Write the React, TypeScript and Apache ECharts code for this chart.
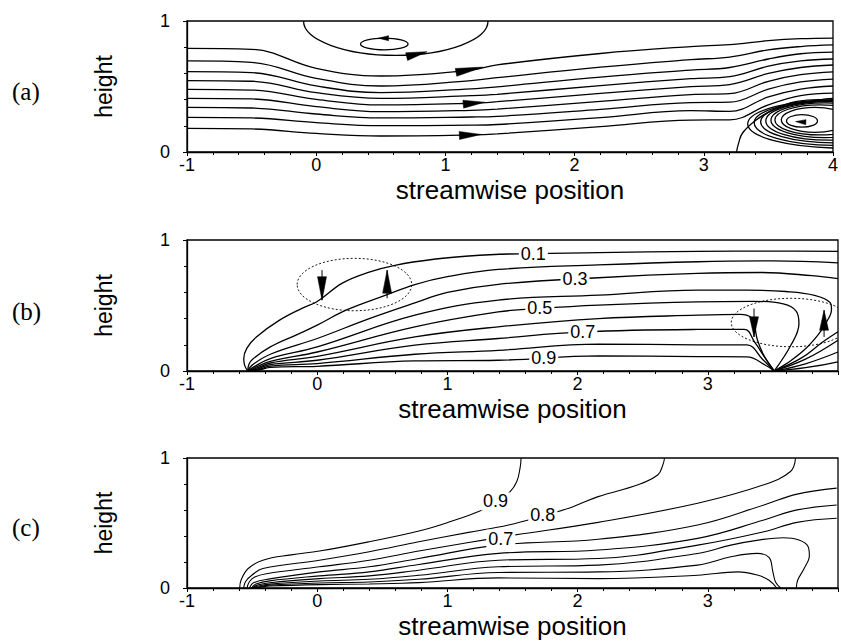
import React, { useEffect, useRef } from "react";
import * as echarts from "echarts";

// ---------------- axes ----------------
const X_RANGE = [-1, 4];
const Y_RANGE = [0, 1];
const PANEL_TAGS = ["(a)", "(b)", "(c)"];
const X_NAME = "streamwise position";
const Y_NAME = "height";

// ---------------- panel (a): streamlines ----------------
const A_X = [-1, -0.5, 0, 0.5, 1.2, 1.4, 2.2, 2.9, 3.2, 3.5, 3.75, 4.0];
const A_LINES = [
  [0.791, 0.784, 0.639, 0.58, 0.625, 0.665, 0.752, 0.805, 0.82, 0.85, 0.865, 0.87],
  [0.695, 0.684, 0.562, 0.504, 0.545, 0.567, 0.648, 0.705, 0.725, 0.78, 0.805, 0.817],
  [0.613, 0.606, 0.504, 0.453, 0.482, 0.497, 0.572, 0.625, 0.645, 0.71, 0.75, 0.763],
  [0.545, 0.54, 0.453, 0.41, 0.43, 0.44, 0.507, 0.56, 0.575, 0.655, 0.695, 0.71],
  [0.478, 0.473, 0.402, 0.359, 0.372, 0.384, 0.447, 0.499, 0.515, 0.6, 0.645, 0.664],
  [0.41, 0.405, 0.346, 0.308, 0.318, 0.327, 0.387, 0.438, 0.445, 0.54, 0.59, 0.611],
  [0.341, 0.336, 0.29, 0.26, 0.267, 0.272, 0.326, 0.377, 0.38, 0.48, 0.535, 0.557],
  [0.265, 0.26, 0.224, 0.201, 0.205, 0.21, 0.262, 0.316, 0.31, 0.42, 0.48, 0.504],
  [0.181, 0.176, 0.142, 0.122, 0.13, 0.138, 0.193, 0.244, 0.245, 0.36, 0.43, 0.45],
];
// wall-attached separatrix of the downstream vortex
const A_SEPARATRIX = [
  [3.253, 0], [3.27, 0.07], [3.3, 0.145], [3.4, 0.24], [3.53, 0.32], [3.71, 0.384], [3.916, 0.402], [4.0, 0.41],
];
// closed loops: [cx, cy, rx, ry]
const A_LOOPS = [
  [0.616, 1.0, 0.714, 0.262], // top bubble
  [0.527, 0.824, 0.184, 0.045], // inner loop of top bubble
  [4.06, 0.215, 0.72, 0.185],
  [4.03, 0.2225, 0.64, 0.1725],
  [4.0, 0.23, 0.56, 0.16],
  [3.97, 0.2375, 0.49, 0.1475],
  [3.94, 0.2425, 0.42, 0.1325],
  [3.9, 0.245, 0.35, 0.115],
  [3.86, 0.245, 0.26, 0.095],
  [3.76, 0.2375, 0.12, 0.0475],
];
// arrows: [tailX, tailY, baseX, baseY, tipX, tipY]
const A_ARROWS = [
  [0.7, 0.728, 0.7, 0.728, 0.858, 0.766],
  [1.082, 0.608, 1.082, 0.608, 1.291, 0.648],
  [1.138, 0.365, 1.138, 0.365, 1.304, 0.38],
  [1.108, 0.126, 1.108, 0.126, 1.278, 0.134],
];
const A_SMALL_ARROWS = [
  [0.56, 0.869, 0.56, 0.869, 0.48, 0.869],
  [3.79, 0.228, 3.79, 0.228, 3.71, 0.232],
];

// ---------------- panel (b): contours ----------------
const B_LINES = [
  [[-0.533, 0], [-0.558, 0.045], [-0.564, 0.095], [-0.54, 0.175], [-0.467, 0.26], [-0.289, 0.388], [-0.113, 0.48], [0.0, 0.53], [0.193, 0.671], [0.399, 0.755], [0.606, 0.809], [0.911, 0.855], [1.164, 0.878], [1.47, 0.893], [2.16, 0.903], [2.92, 0.913], [3.5, 0.915], [4.0, 0.913]],
  [[-0.533, 0], [-0.525, 0.05], [-0.49, 0.095], [-0.36, 0.184], [-0.15, 0.28], [0.0, 0.35], [0.221, 0.464], [0.527, 0.579], [0.75, 0.66], [1.0, 0.72], [1.39, 0.775], [2.16, 0.81], [2.92, 0.834], [3.5, 0.84], [4.0, 0.825]],
  [[-0.533, 0], [-0.5, 0.045], [-0.36, 0.128], [0.0, 0.248], [0.4, 0.4], [0.75, 0.52], [1.0, 0.6], [1.39, 0.662], [2.16, 0.712], [2.92, 0.745], [3.4, 0.752], [3.8, 0.728], [4.0, 0.705]],
  [[-0.533, 0], [-0.49, 0.03], [-0.36, 0.095], [0.0, 0.184], [0.75, 0.426], [1.39, 0.541], [2.16, 0.579], [2.92, 0.617], [3.3, 0.617], [3.6, 0.607], [3.82, 0.578], [3.94, 0.522], [3.95, 0.47], [3.91, 0.37], [3.85, 0.28], [3.74, 0.16], [3.61, 0.06], [3.51, 0]],
  [[-0.533, 0], [-0.48, 0.025], [-0.36, 0.074], [0.0, 0.145], [0.75, 0.337], [1.39, 0.451], [1.71, 0.478], [2.16, 0.503], [2.92, 0.528], [3.35, 0.532], [3.58, 0.512], [3.68, 0.455], [3.7, 0.36], [3.64, 0.2], [3.51, 0]],
  [[-0.533, 0], [-0.47, 0.02], [-0.36, 0.061], [0.0, 0.112], [0.75, 0.26], [1.39, 0.337], [2.16, 0.4], [2.92, 0.426], [3.25, 0.432], [3.33, 0.41], [3.36, 0.34], [3.38, 0.24], [3.43, 0.12], [3.51, 0]],
  [[-0.533, 0], [-0.46, 0.015], [-0.36, 0.049], [0.0, 0.082], [0.75, 0.197], [1.39, 0.248], [2.04, 0.298], [2.92, 0.317], [3.28, 0.318], [3.36, 0.22], [3.44, 0.1], [3.51, 0]],
  [[-0.533, 0], [-0.45, 0.012], [-0.36, 0.038], [0.0, 0.057], [0.75, 0.128], [1.39, 0.158], [2.16, 0.205], [2.92, 0.2], [3.3, 0.2], [3.42, 0.09], [3.51, 0]],
  [[-0.533, 0], [-0.44, 0.01], [-0.36, 0.028], [0.0, 0.036], [0.75, 0.077], [1.39, 0.082], [2.16, 0.115], [2.92, 0.11], [3.3, 0.108], [3.45, 0.04], [3.51, 0]],
];
// branches leaving the downstream singular point
const B_EXITS = [
  [[3.51, 0], [3.75, 0.025], [4.0, 0.07]],
  [[3.51, 0], [3.75, 0.055], [4.0, 0.145]],
  [[3.51, 0], [3.75, 0.09], [4.0, 0.235]],
  [[3.51, 0], [3.72, 0.1], [3.88, 0.22], [4.0, 0.3]],
];
const B_ELLIPSES = [
  [0.286, 0.66, 0.44, 0.2],
  [3.64, 0.37, 0.46, 0.185],
];
const B_ARROWS = [
  [0.037, 0.77, 0.037, 0.72, 0.037, 0.541],
  [0.537, 0.555, 0.537, 0.594, 0.537, 0.77],
  [3.355, 0.477, 3.355, 0.414, 3.355, 0.26],
  [3.893, 0.26, 3.893, 0.311, 3.893, 0.464],
];
const B_LABELS = [
  { name: "0.1", value: [1.66, 0.895] },
  { name: "0.3", value: [1.98, 0.702] },
  { name: "0.5", value: [1.71, 0.478] },
  { name: "0.7", value: [2.04, 0.296] },
  { name: "0.9", value: [1.74, 0.097] },
];

// ---------------- panel (c): contours ----------------
const C_LINES = [
  [[-0.595, 0], [-0.585, 0.06], [-0.53, 0.15], [-0.417, 0.214], [-0.2, 0.255], [0.017, 0.284], [0.399, 0.356], [0.781, 0.438], [1.036, 0.515], [1.24, 0.588], [1.37, 0.66], [1.482, 0.742], [1.533, 0.819], [1.558, 0.922], [1.566, 1.0]],
  [[-0.565, 0], [-0.55, 0.05], [-0.5, 0.1], [-0.417, 0.15], [0.017, 0.214], [0.4, 0.279], [0.78, 0.356], [1.163, 0.428], [1.47, 0.485], [1.733, 0.555], [1.95, 0.62], [2.158, 0.703], [2.464, 0.794], [2.617, 0.871], [2.655, 0.948], [2.668, 1.0]],
  [[-0.54, 0], [-0.52, 0.05], [-0.48, 0.085], [-0.39, 0.11], [0.017, 0.163], [0.4, 0.214], [0.78, 0.284], [1.163, 0.35], [1.41, 0.39], [1.51, 0.407], [2.158, 0.505], [2.922, 0.652], [3.431, 0.794], [3.635, 0.896], [3.674, 1.0]],
  [[-0.52, 0], [-0.49, 0.04], [-0.365, 0.07], [0.017, 0.124], [0.4, 0.163], [0.78, 0.227], [1.393, 0.33], [2.158, 0.375], [2.922, 0.485], [3.431, 0.639], [3.686, 0.722], [3.99, 0.768]],
  [[-0.506, 0], [-0.47, 0.03], [-0.365, 0.055], [0.017, 0.093], [0.4, 0.124], [0.78, 0.181], [1.393, 0.266], [2.158, 0.292], [2.922, 0.382], [3.431, 0.523], [3.686, 0.601], [3.99, 0.639]],
  [[-0.5, 0], [-0.46, 0.022], [-0.365, 0.04], [0.017, 0.072], [0.4, 0.093], [0.78, 0.137], [1.393, 0.214], [2.158, 0.227], [2.922, 0.33], [3.431, 0.433], [3.686, 0.505], [3.99, 0.536]],
  [[-0.497, 0], [-0.45, 0.015], [-0.365, 0.03], [0.017, 0.054], [0.4, 0.067], [0.78, 0.098], [1.393, 0.163], [2.158, 0.176], [2.922, 0.266], [3.177, 0.33], [3.4, 0.37], [3.58, 0.387], [3.7, 0.37], [3.77, 0.32], [3.78, 0.25], [3.74, 0.15], [3.69, 0.06], [3.68, 0]],
  [[-0.494, 0], [-0.44, 0.01], [-0.365, 0.022], [0.017, 0.039], [0.4, 0.046], [0.78, 0.067], [1.393, 0.119], [2.158, 0.124], [2.922, 0.176], [3.177, 0.24], [3.38, 0.266], [3.47, 0.235], [3.5, 0.124], [3.52, 0.047], [3.56, 0]],
  [[-0.49, 0], [-0.43, 0.008], [-0.365, 0.015], [0.017, 0.026], [0.4, 0.031], [0.78, 0.041], [1.393, 0.078], [2.158, 0.072], [2.922, 0.098], [3.23, 0.124], [3.38, 0.1], [3.47, 0.06], [3.53, 0]],
];
const C_LABELS = [
  { name: "0.9", value: [1.37, 0.666] },
  { name: "0.8", value: [1.733, 0.562] },
  { name: "0.7", value: [1.41, 0.38] },
];

// ---------------- rendering helpers ----------------
const FONT = "'Liberation Sans', Arial, Helvetica, sans-serif";
const SERIF = "'Liberation Serif', 'Times New Roman', serif";
const GRID_TOPS = [21, 240, 458];
const GRID_HEIGHTS = [131, 131, 130];
const TAG_Y = [92, 312, 528];

function lineSeries(i: number, data: number[][], width = 1.3) {
  return {
    type: "line",
    xAxisIndex: i,
    yAxisIndex: i,
    data,
    smooth: 0.4,
    symbol: "none",
    showSymbol: false,
    silent: true,
    clip: true,
    lineStyle: { color: "#000", width },
    z: 2,
  };
}

function ellipseSeries(i: number, data: number[][], dashed: boolean) {
  return {
    type: "custom",
    xAxisIndex: i,
    yAxisIndex: i,
    clip: true,
    silent: true,
    z: 3,
    data,
    encode: { x: 0, y: 1 },
    renderItem: (_p: any, api: any) => {
      const c = api.coord([api.value(0), api.value(1)]);
      const s = api.size([api.value(2), api.value(3)]);
      return {
        type: "ellipse",
        shape: { cx: c[0], cy: c[1], rx: Math.abs(s[0]), ry: Math.abs(s[1]) },
        style: {
          fill: "none",
          stroke: "#000",
          lineWidth: dashed ? 0.9 : 1.3,
          lineDash: dashed ? [2, 2] : null,
        },
      };
    },
  };
}

function arrowSeries(i: number, data: number[][], halfWidth: number) {
  return {
    type: "custom",
    xAxisIndex: i,
    yAxisIndex: i,
    clip: true,
    silent: true,
    z: 4,
    data,
    encode: { x: 0, y: 1 },
    renderItem: (_p: any, api: any) => {
      const t = api.coord([api.value(0), api.value(1)]);
      const b = api.coord([api.value(2), api.value(3)]);
      const p = api.coord([api.value(4), api.value(5)]);
      const dx = p[0] - b[0];
      const dy = p[1] - b[1];
      const L = Math.hypot(dx, dy) || 1;
      const nx = (-dy / L) * halfWidth;
      const ny = (dx / L) * halfWidth;
      const children: any[] = [];
      if (Math.hypot(t[0] - b[0], t[1] - b[1]) > 0.5) {
        children.push({
          type: "line",
          shape: { x1: t[0], y1: t[1], x2: p[0], y2: p[1] },
          style: { stroke: "#000", lineWidth: 1 },
        });
      }
      children.push({
        type: "polygon",
        shape: { points: [p, [b[0] + nx, b[1] + ny], [b[0] - nx, b[1] - ny]] },
        style: { fill: "#000", stroke: "#000", lineWidth: 0.5 },
      });
      return { type: "group", children };
    },
  };
}

function labelSeries(i: number, data: any[]) {
  return {
    type: "scatter",
    xAxisIndex: i,
    yAxisIndex: i,
    data,
    symbolSize: 1,
    silent: true,
    z: 6,
    itemStyle: { color: "rgba(0,0,0,0)", opacity: 1 },
    label: {
      show: true,
      position: "inside",
      formatter: "{b}",
      color: "#000",
      opacity: 1,
      fontSize: 18,
      fontFamily: FONT,
      backgroundColor: "#fff",
      padding: [0, 2],
    },
  };
}

function buildOption() {
  const grid = GRID_TOPS.map((top, i) => ({
    left: 187,
    right: -1,
    top,
    height: GRID_HEIGHTS[i],
    show: true,
    borderColor: "#000",
    borderWidth: 1.3,
    backgroundColor: "transparent",
  }));
  const axisLine = { show: true, onZero: false, lineStyle: { color: "#000", width: 1.3 } };
  const xAxis = GRID_TOPS.map((_, i) => ({
    type: "value",
    gridIndex: i,
    min: X_RANGE[0],
    max: X_RANGE[1],
    interval: 1,
    axisLine,
    axisTick: { show: true, length: 4, lineStyle: { color: "#000" } },
    minorTick: { show: true, splitNumber: 5, length: 3, lineStyle: { color: "#000" } },
    splitLine: { show: false },
    axisLabel: {
      color: "#000",
      fontSize: 18,
      fontFamily: FONT,
      margin: 4,
      formatter: (v: number) => (i > 0 && v === X_RANGE[1] ? "" : String(v)),
    },
    name: X_NAME,
    nameLocation: "middle",
    nameGap: 25,
    nameTextStyle: { color: "#000", fontSize: 26, fontFamily: FONT },
  }));
  const yAxis = GRID_TOPS.map((_, i) => ({
    type: "value",
    gridIndex: i,
    min: Y_RANGE[0],
    max: Y_RANGE[1],
    interval: 1,
    axisLine,
    axisTick: { show: true, length: 4, lineStyle: { color: "#000" } },
    minorTick: { show: true, splitNumber: 5, length: 3, lineStyle: { color: "#000" } },
    splitLine: { show: false },
    axisLabel: { color: "#000", fontSize: 18, fontFamily: FONT, margin: 17 },
    name: Y_NAME,
    nameLocation: "middle",
    nameRotate: 90,
    nameGap: 72,
    nameTextStyle: { color: "#000", fontSize: 23, fontFamily: FONT },
  }));

  const series: any[] = [];
  // (a)
  A_LINES.forEach((ys) => series.push(lineSeries(0, A_X.map((x, k) => [x, ys[k]]))));
  series.push(lineSeries(0, A_SEPARATRIX));
  series.push(ellipseSeries(0, A_LOOPS, false));
  series.push(arrowSeries(0, A_ARROWS, 4));
  series.push(arrowSeries(0, A_SMALL_ARROWS, 2.5));
  // (b)
  B_LINES.forEach((pts) => series.push(lineSeries(1, pts)));
  B_EXITS.forEach((pts) => series.push(lineSeries(1, pts)));
  series.push(ellipseSeries(1, B_ELLIPSES, true));
  series.push(arrowSeries(1, B_ARROWS, 4.5));
  series.push(labelSeries(1, B_LABELS));
  // (c)
  C_LINES.forEach((pts) => series.push(lineSeries(2, pts, 1.1)));
  series.push(labelSeries(2, C_LABELS));

  const graphic = PANEL_TAGS.map((t, i) => ({
    type: "text",
    left: 12,
    top: TAG_Y[i] - 13,
    style: { text: t, font: `25px ${SERIF}`, fill: "#000" },
    silent: true,
  }));

  return {
    animation: false,
    backgroundColor: "#fff",
    grid,
    xAxis,
    yAxis,
    series,
    graphic,
  };
}

export default function App() {
  const ref = useRef<HTMLDivElement>(null);
  useEffect(() => {
    const chart = echarts.init(ref.current!, null, { renderer: "svg" });
    chart.setOption(buildOption() as any);
    return () => chart.dispose();
  }, []);
  return (
    <div
      ref={ref}
      style={{ position: "fixed", left: 0, top: 0, width: 841, height: 641, background: "#fff" }}
    />
  );
}
